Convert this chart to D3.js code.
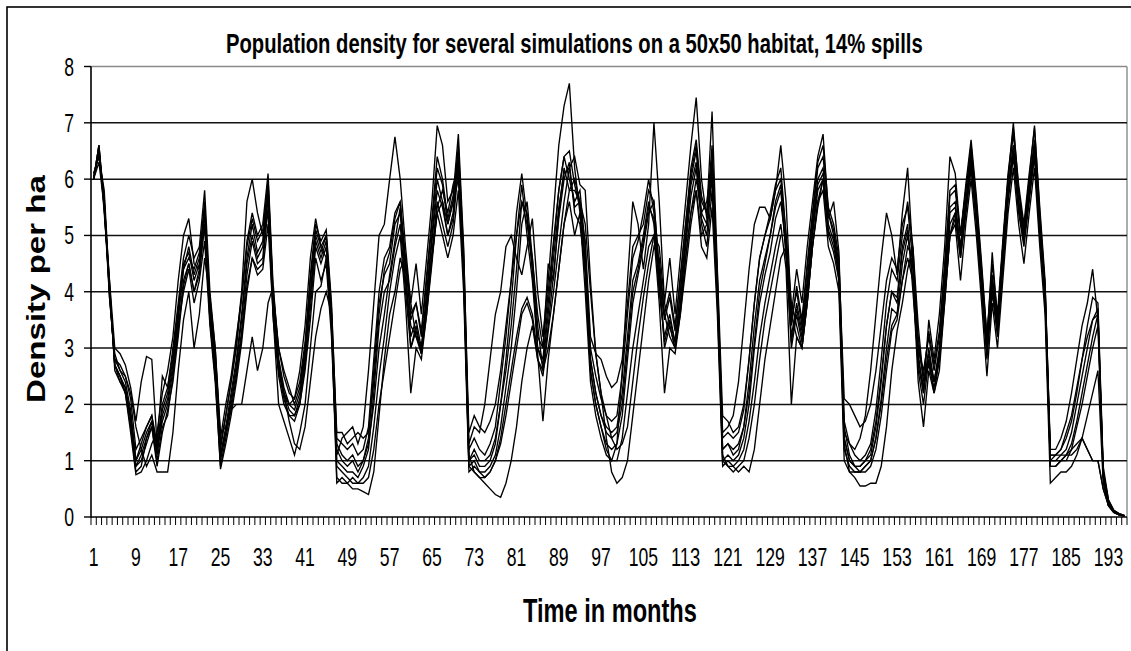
<!DOCTYPE html>
<html><head><meta charset="utf-8">
<script src="https://cdn.jsdelivr.net/npm/d3@7"></script>
<style>body{margin:0;background:#fff;} svg{display:block;}</style>
</head><body>
<svg id="chart" width="1131" height="651"></svg>
<script>
const months = d3.range(1, 197);
const xTickLabels = [1,9,17,25,33,41,49,57,65,73,81,89,97,105,113,121,129,137,145,153,161,169,177,185,193];
const yTicks = [0,1,2,3,4,5,6,7,8];

const sim1 = [
6.0,6.6,5.6,4.0,2.8,2.6,2.4,1.9,1.0,1.2,
1.5,1.7,1.1,1.8,2.1,2.7,3.5,4.4,4.8,4.3,
4.6,5.6,3.8,2.8,1.1,1.6,2.2,2.8,3.6,4.6,
5.2,4.7,4.9,6.0,3.8,2.8,2.3,2.0,1.9,2.2,
2.9,4.0,5.0,4.7,5.0,3.6,1.2,1.0,0.9,1.0,
0.8,1.0,1.4,2.6,3.8,4.3,4.5,5.2,5.4,4.2,
3.2,3.5,3.0,4.0,5.0,6.0,5.6,5.0,5.4,6.5,
4.5,1.0,1.1,0.9,0.9,1.0,1.3,2.0,2.8,3.8,
5.0,5.9,5.0,4.2,3.0,2.8,3.8,4.8,5.8,6.4,
6.0,5.6,5.8,4.8,2.8,2.2,1.8,1.6,1.5,1.6,
2.2,3.2,4.2,4.5,5.0,5.6,5.2,4.0,3.2,3.6,
3.1,4.0,5.0,6.0,6.5,5.4,5.2,6.2,4.0,1.2,
1.3,1.1,1.2,1.6,2.4,3.4,4.2,4.6,5.0,5.6,
5.9,4.6,3.2,3.8,3.3,4.2,5.2,6.0,6.2,5.2,
4.9,4.4,1.4,1.0,0.9,0.9,1.0,1.1,1.6,2.4,
3.4,4.0,3.9,4.8,5.2,4.0,2.8,2.3,3.0,2.4,
3.0,4.2,5.5,5.6,4.8,5.6,6.4,5.4,4.2,3.0,
4.2,3.4,4.6,5.8,6.6,5.6,5.0,5.8,6.6,5.2,
4.0,1.0,1.0,1.1,1.2,1.5,2.0,2.5,3.0,3.5,
3.6,0.8,0.25,0.1,0.05,0.02];

const sim2 = [
6.0,6.5,5.5,4.1,2.7,2.5,2.3,1.7,0.9,1.0,
1.3,1.6,1.0,1.6,1.8,2.5,3.3,4.2,4.5,4.0,
4.4,5.4,3.6,2.6,1.0,1.5,2.0,2.6,3.3,4.3,
4.9,4.5,4.6,5.7,3.6,2.6,2.1,1.8,1.8,2.0,
2.7,3.7,4.8,4.5,4.8,3.4,1.0,0.9,0.8,0.8,
0.7,0.9,1.2,2.2,3.4,4.0,4.2,4.8,5.2,4.0,
3.0,3.3,2.9,3.8,4.7,5.6,5.2,4.8,5.2,6.2,
4.2,0.9,1.0,0.8,0.8,0.9,1.1,1.6,2.3,3.0,
4.0,5.2,5.6,4.6,3.4,2.6,3.4,4.3,5.3,6.0,
6.3,5.4,5.2,4.4,2.6,2.0,1.6,1.3,1.2,1.3,
1.8,2.8,3.8,4.3,4.8,5.4,5.6,4.4,3.0,3.4,
3.0,3.8,4.8,5.7,6.2,5.2,4.8,5.8,3.8,1.0,
1.1,1.0,1.1,1.4,2.0,3.0,3.8,4.3,4.7,5.3,
5.6,4.8,3.0,3.6,3.1,4.0,5.0,5.8,6.0,5.0,
4.7,4.2,1.2,0.9,0.8,0.8,0.9,1.0,1.4,2.1,
3.0,3.7,3.6,4.5,5.0,4.4,2.6,2.0,2.8,2.2,
2.8,4.0,5.2,5.4,4.6,5.4,6.2,5.2,4.0,2.8,
4.0,3.2,4.4,5.6,6.4,5.4,4.8,5.6,6.4,5.0,
3.8,0.9,0.9,1.0,1.0,1.2,1.6,2.0,2.5,3.0,
3.4,0.7,0.2,0.1,0.04,0.02];

const sim3 = [
6.1,6.4,5.7,3.9,2.9,2.6,2.5,2.1,1.2,1.4,
1.6,1.8,1.3,2.0,2.3,3.0,3.8,4.6,5.0,4.6,
4.8,5.8,4.0,3.0,1.3,1.8,2.4,3.0,3.9,4.9,
5.4,5.0,5.2,6.1,4.0,3.0,2.5,2.2,2.1,2.4,
3.1,4.3,5.2,4.9,5.1,3.8,1.4,1.3,1.2,1.3,
1.1,1.2,1.6,2.8,4.0,4.6,4.8,5.4,5.6,4.6,
3.5,3.8,3.3,4.3,5.3,6.4,6.0,5.3,5.7,6.8,
4.8,1.2,1.4,1.2,1.1,1.3,1.6,2.4,3.2,4.2,
5.4,6.1,5.3,4.4,3.2,3.0,4.5,4.2,5.4,6.2,
5.8,5.8,5.6,4.6,3.0,2.5,2.1,1.8,1.7,1.8,
2.5,3.6,4.6,4.9,5.4,6.0,5.4,4.2,3.5,3.9,
3.3,4.3,5.2,6.2,6.7,5.7,5.4,6.6,4.3,1.4,
1.5,1.4,1.5,1.9,2.8,3.8,4.6,5.0,5.4,5.9,
6.2,5.0,3.4,4.1,3.5,4.5,5.4,6.3,6.6,5.5,
5.2,4.6,1.7,1.3,1.1,1.0,1.1,1.3,1.9,2.8,
3.8,4.4,4.2,5.0,5.6,4.8,3.0,2.5,3.3,2.7,
3.3,4.5,5.8,5.9,5.0,5.9,6.7,5.7,4.5,3.2,
4.5,3.6,4.9,6.1,6.9,5.9,5.2,6.1,6.9,5.5,
4.2,1.1,1.1,1.2,1.4,1.7,2.2,2.8,3.4,3.9,
3.8,0.9,0.3,0.12,0.06,0.03];

const sim4 = [
6.0,6.6,5.4,4.2,2.6,2.4,2.2,1.6,0.8,0.9,
1.4,1.7,1.2,1.7,2.0,2.6,3.4,4.0,4.4,3.8,
4.2,4.9,3.4,2.4,0.9,1.4,1.9,2.5,3.2,4.1,
4.6,4.3,4.4,5.2,3.5,2.5,2.0,1.8,1.7,2.0,
2.6,3.5,4.6,4.2,4.5,3.2,0.9,0.8,0.7,0.6,
0.6,0.7,0.9,1.6,2.5,3.2,4.0,4.6,5.0,3.8,
2.2,3.0,2.8,3.6,4.6,5.4,5.0,4.6,5.0,5.8,
4.0,0.8,0.9,0.8,0.7,0.8,1.0,1.4,2.0,2.6,
3.2,3.7,3.9,3.6,2.9,1.7,2.8,3.6,4.4,5.2,
5.6,5.0,5.4,4.0,2.4,1.8,1.4,1.1,1.0,1.0,
1.4,2.2,3.0,3.6,4.2,4.8,5.0,3.8,2.2,3.0,
2.9,3.6,4.6,5.4,5.8,4.8,4.6,5.5,3.6,0.9,
1.0,0.9,1.0,1.2,1.7,2.4,3.2,3.8,4.3,4.8,
5.2,4.4,2.0,3.2,3.0,3.8,4.8,5.6,5.8,4.8,
4.5,4.0,1.0,0.8,0.8,0.8,0.8,0.9,1.2,1.8,
2.6,3.3,3.5,4.2,4.6,4.2,2.4,1.6,2.6,2.2,
2.6,3.8,5.0,5.2,4.2,5.2,6.0,5.0,3.8,2.5,
3.8,3.0,4.2,5.4,6.2,5.2,4.5,5.4,6.2,4.8,
3.6,0.6,0.7,0.8,0.8,0.9,1.1,1.4,1.8,2.2,
2.6,0.6,0.2,0.08,0.04,0.02];

const sim5 = [
6.0,6.5,5.6,4.0,2.7,2.5,2.2,1.5,0.75,0.8,
1.0,1.3,1.5,2.2,2.6,3.2,4.2,5.0,5.3,4.5,
4.4,5.2,3.5,2.5,1.2,1.8,2.4,3.1,4.0,5.6,
6.0,5.4,5.0,5.4,3.6,2.6,2.2,2.0,2.1,2.6,
3.4,4.6,5.3,4.8,4.6,3.5,1.1,1.4,1.5,1.6,
1.3,1.6,2.6,3.8,5.0,5.2,6.0,6.75,6.0,4.8,
3.8,4.5,3.6,4.6,5.6,6.95,6.6,5.6,5.8,6.3,
4.4,1.3,1.6,1.5,2.0,2.8,3.6,4.0,4.8,5.0,
4.6,4.3,4.8,5.3,4.0,3.2,4.2,5.4,6.6,7.3,
7.7,6.2,5.4,4.3,2.6,2.0,1.6,1.2,1.0,1.3,
2.6,4.2,5.6,5.2,4.4,5.2,7.0,5.6,3.8,4.6,
3.6,4.6,5.6,6.6,7.45,6.0,5.3,6.0,4.1,1.5,
1.6,1.8,2.4,3.4,4.4,5.2,5.5,5.5,5.3,5.8,
6.6,5.6,3.6,4.4,3.8,4.8,5.6,6.4,6.8,5.4,
5.0,4.2,1.5,1.3,1.2,1.4,1.8,2.6,3.6,4.6,
5.4,5.0,4.3,5.4,6.2,4.6,2.9,2.2,3.5,2.8,
3.6,4.8,6.4,6.1,5.0,5.8,6.5,5.5,4.3,3.1,
4.7,3.5,4.8,6.0,7.0,5.8,5.0,5.9,6.7,5.3,
4.1,1.2,1.2,1.4,1.7,2.2,2.8,3.4,3.8,4.4,
3.5,0.8,0.25,0.1,0.05,0.02];

const sim6 = [
6.0,6.3,5.5,3.9,2.8,2.7,2.5,2.2,1.6,1.2,
0.9,1.1,0.8,0.8,0.8,1.5,2.6,3.5,4.0,3.0,
3.6,4.6,3.9,3.0,1.5,1.6,1.9,2.0,2.0,2.6,
3.2,2.6,3.0,3.8,4.1,2.8,2.2,1.7,1.3,1.2,
1.6,2.4,3.2,3.7,4.0,3.6,0.7,0.6,0.6,0.5,
0.5,0.45,0.4,0.8,1.8,2.8,3.6,4.0,4.6,4.2,
3.4,3.2,3.0,3.8,4.6,5.4,5.6,5.2,5.6,6.0,
4.6,1.1,0.8,0.7,0.6,0.5,0.4,0.35,0.6,1.0,
1.6,2.4,3.0,3.4,2.8,2.6,3.0,3.6,4.4,5.2,
5.8,6.0,5.6,5.2,4.0,2.9,2.2,1.4,0.8,0.6,
0.7,1.0,1.8,2.6,3.4,4.2,4.8,4.6,3.6,3.2,
3.0,3.6,4.4,5.2,5.8,5.0,5.2,6.4,4.2,1.1,
0.9,0.9,0.8,0.9,0.8,1.2,2.0,2.8,3.4,4.0,
4.6,4.8,3.6,3.2,3.0,3.8,4.8,5.6,6.0,5.0,
5.0,4.4,1.3,0.8,0.7,0.55,0.55,0.6,0.6,0.9,
1.6,2.6,3.3,3.8,4.4,4.8,3.4,2.4,2.8,2.4,
2.8,3.8,5.0,5.3,4.6,5.4,6.2,5.3,4.1,3.0,
4.0,3.3,4.5,5.7,6.5,5.5,4.9,5.7,6.5,5.1,
3.9,1.0,1.0,1.0,1.1,1.2,1.3,1.4,1.2,1.0,
1.0,0.5,0.2,0.08,0.04,0.02];

const sim7 = [
6.1,6.4,5.8,4.1,2.7,2.4,2.3,1.8,1.0,1.3,
1.6,1.8,1.2,1.9,2.2,2.8,3.6,4.5,4.7,4.2,
4.5,5.5,3.7,2.7,1.1,1.5,2.1,2.7,3.5,4.5,
5.0,4.6,4.8,5.8,3.7,2.7,2.2,1.9,1.8,2.1,
2.8,3.9,4.9,4.6,4.9,3.5,1.3,1.1,1.0,1.1,
0.9,1.0,1.3,2.0,3.0,3.6,4.3,4.9,5.5,4.4,
3.0,3.4,2.9,3.9,4.9,5.8,5.5,5.0,5.3,6.4,
4.3,1.0,1.2,1.0,1.0,1.1,1.4,2.0,2.6,3.4,
4.4,5.6,5.4,4.4,3.0,2.7,3.6,4.6,5.5,6.1,
6.2,5.5,5.6,4.5,2.8,2.2,1.8,1.5,1.4,1.5,
2.0,3.0,4.0,4.4,4.9,5.5,5.3,4.1,3.1,3.5,
3.1,4.0,4.9,5.9,6.3,5.3,5.0,6.1,4.0,1.2,
1.3,1.2,1.3,1.6,2.2,3.1,4.0,4.5,5.0,5.5,
5.8,4.7,3.1,3.7,3.2,4.1,5.1,5.9,6.1,5.1,
4.8,4.3,1.4,1.0,0.9,0.9,1.0,1.2,1.7,2.5,
3.4,4.0,3.8,4.7,5.1,4.2,2.7,2.2,2.9,2.4,
2.9,4.1,5.4,5.5,4.7,5.5,6.3,5.3,4.1,2.9,
4.1,3.3,4.5,5.7,6.5,5.5,4.9,5.7,6.5,5.1,
3.9,1.0,1.1,1.2,1.5,1.8,2.3,2.8,3.2,3.5,
3.7,0.8,0.3,0.12,0.06,0.03];

const sim8 = [
6.0,6.5,5.6,4.2,3.0,2.9,2.7,2.3,1.7,2.4,
2.85,2.8,1.3,2.5,2.3,2.9,3.7,4.4,4.6,4.4,
4.7,5.4,3.8,2.9,1.4,2.0,2.5,3.2,3.9,4.8,
5.3,4.9,5.1,5.9,3.9,3.0,2.6,2.3,2.0,2.3,
3.0,4.2,5.1,4.8,5.0,3.7,1.5,1.5,1.3,1.4,
1.5,1.4,1.5,2.4,3.6,4.4,4.7,5.3,5.6,4.5,
3.6,3.8,3.2,4.2,5.2,6.2,5.9,5.2,5.6,6.6,
4.7,1.5,1.8,1.6,1.5,1.7,2.0,2.6,3.4,4.2,
5.0,5.6,5.2,4.6,3.6,3.0,4.0,4.9,5.8,6.4,
6.5,5.9,5.5,4.9,3.2,2.9,2.8,2.5,2.3,2.4,
2.8,3.8,4.8,5.0,5.2,5.8,5.6,4.4,3.6,4.0,
3.4,4.2,5.2,6.1,6.6,5.6,5.4,7.2,4.4,1.8,
1.7,1.5,1.6,2.0,2.8,3.8,4.6,5.0,5.3,5.8,
6.0,5.0,3.5,4.0,3.4,4.4,5.3,6.2,6.4,5.4,
5.1,4.5,2.1,2.0,1.8,1.6,1.7,2.0,2.6,3.4,
4.2,4.6,4.4,5.2,5.5,4.5,3.0,2.6,3.2,2.6,
3.2,4.4,5.7,5.8,5.0,5.8,6.6,5.6,4.4,3.2,
4.3,3.5,4.8,6.0,6.8,5.8,5.1,6.0,6.95,5.4,
4.1,1.1,1.1,1.1,1.1,1.1,1.2,1.4,1.2,1.0,
1.0,0.5,0.2,0.08,0.04,0.01];

const sim9 = [
6.0,6.6,5.5,4.0,2.7,2.5,2.2,1.8,0.9,1.1,
1.4,1.6,0.9,1.5,1.9,2.4,3.2,4.1,4.5,4.0,
4.3,5.2,3.5,2.5,0.85,1.3,1.8,2.4,3.1,4.0,
4.6,4.4,4.5,5.5,3.5,2.0,1.7,1.4,1.1,1.5,
2.0,3.0,4.0,4.1,4.6,3.4,0.6,0.7,0.6,0.7,
0.6,0.6,0.7,1.2,2.0,2.6,3.2,3.8,4.4,4.6,
3.8,3.2,2.9,3.6,4.5,5.5,5.8,5.4,5.9,6.2,
4.4,0.9,0.8,0.7,0.7,0.8,1.0,1.3,1.8,2.4,
3.0,3.6,3.8,3.5,2.8,2.5,3.3,4.0,4.8,5.6,
6.2,6.4,5.9,5.8,4.2,2.9,2.2,1.8,1.4,1.2,
1.3,1.6,2.4,3.2,3.9,4.5,5.0,4.8,3.8,3.4,
3.0,3.7,4.6,5.4,6.0,5.4,5.6,6.3,4.2,1.0,
0.9,0.8,0.9,1.0,1.4,2.0,2.8,3.5,4.0,4.5,
5.0,5.0,3.8,3.4,3.0,3.8,4.8,5.5,6.0,5.3,
5.6,4.7,1.6,1.1,0.9,0.8,0.9,1.0,1.4,2.0,
2.8,3.4,3.6,4.2,4.8,4.6,3.2,2.4,2.7,2.3,
2.8,3.9,5.0,5.4,4.8,5.6,6.4,5.5,4.3,3.1,
4.0,3.4,4.6,5.8,6.6,5.6,5.0,5.8,6.6,5.2,
4.0,0.9,0.9,1.0,1.1,1.3,1.7,2.2,2.7,3.2,
3.6,0.7,0.2,0.1,0.05,0.02];

const seriesList = [sim1, sim2, sim3, sim4, sim5, sim6, sim7, sim8, sim9];

const titleText = "Population density for several simulations on a 50x50 habitat, 14% spills";
const yTitleText = "Density per ha";
const xTitleText = "Time in months";

// ---------- drawing ----------
const svg = d3.select("#chart");
const FONT = "'Liberation Sans', Arial, sans-serif";
const plot = {left: 91, right: 1127, top: 66.5, bottom: 517};

const x = d3.scaleBand().domain(months).range([plot.left, plot.right]).paddingInner(0).paddingOuter(0);
const y = d3.scaleLinear().domain([0, 8]).range([plot.bottom, plot.top]);

svg.append("rect").attr("x", 0).attr("y", 0).attr("width", 1131).attr("height", 651).attr("fill", "#fff");
// outer chart border (right and bottom edges lie outside the picture)
svg.append("rect").attr("x", 7).attr("y", 7).attr("width", 1140).attr("height", 660)
  .attr("fill", "none").attr("stroke", "#000").attr("stroke-width", 1.6);

// plot frame (grey top/right)
svg.append("line").attr("x1", plot.left).attr("x2", plot.right).attr("y1", y(8)).attr("y2", y(8))
  .attr("stroke", "#8a8a8a").attr("stroke-width", 1.4);
svg.append("line").attr("x1", plot.right).attr("x2", plot.right).attr("y1", plot.top).attr("y2", plot.bottom)
  .attr("stroke", "#8a8a8a").attr("stroke-width", 1.4);

// gridlines
svg.append("g").selectAll("line").data(yTicks.filter(t => t > 0 && t < 8)).join("line")
  .attr("x1", plot.left).attr("x2", plot.right)
  .attr("y1", d => y(d)).attr("y2", d => y(d))
  .attr("stroke", "#111").attr("stroke-width", 1.5);

// series
const line = d3.line()
  .x((d, i) => x(months[i]) + x.bandwidth() / 2)
  .y(d => y(d));
svg.append("g").selectAll("path").data(seriesList).join("path")
  .attr("d", line).attr("fill", "none").attr("stroke", "#000").attr("stroke-width", 1.35)
  .attr("stroke-linejoin", "miter");

// axes lines
svg.append("line").attr("x1", plot.left).attr("x2", plot.left).attr("y1", plot.top).attr("y2", plot.bottom + 0.5)
  .attr("stroke", "#000").attr("stroke-width", 1.6);
svg.append("line").attr("x1", plot.left).attr("x2", plot.right).attr("y1", plot.bottom).attr("y2", plot.bottom)
  .attr("stroke", "#000").attr("stroke-width", 1.6);

// text helper: condensed text placed by left edge and baseline, scaled to a width
function placeText(parent, str, opts) {
  const g = parent.append("g");
  const t = g.append("text")
    .attr("font-family", FONT).attr("font-size", opts.size)
    .attr("font-weight", opts.weight || "normal").attr("fill", "#000")
    .text(str);
  const w = t.node().getComputedTextLength();
  const sx = opts.width / w;
  const rot = opts.rotate ? ` rotate(${opts.rotate})` : "";
  g.attr("transform", `translate(${opts.x},${opts.y})${rot} scale(${sx},1)`);
  return g;
}

// y ticks + labels
const yAxisG = svg.append("g");
yAxisG.selectAll("line").data(yTicks).join("line")
  .attr("x1", plot.left - 7).attr("x2", plot.left).attr("y1", d => y(d)).attr("y2", d => y(d))
  .attr("stroke", "#000").attr("stroke-width", 1.4);

const digitW = 9.8;
yTicks.forEach(d => {
  const s = String(d);
  placeText(yAxisG, s, {x: 74 - s.length * digitW, y: y(d) + 9, size: 25, width: s.length * digitW});
});

// x ticks (between categories)
const xBounds = months.map(m => x(m)).concat([plot.right]);
svg.append("g").selectAll("line").data(xBounds).join("line")
  .attr("x1", d => d).attr("x2", d => d).attr("y1", plot.bottom).attr("y2", plot.bottom + 8)
  .attr("stroke", "#000").attr("stroke-width", 1);

const xLabG = svg.append("g");
xTickLabels.forEach(d => {
  const s = String(d);
  const cx = x(d) + x.bandwidth() / 2;
  placeText(xLabG, s, {x: cx - s.length * digitW / 2, y: 566, size: 26, width: s.length * digitW});
});

// titles
placeText(svg, titleText, {x: 226, y: 53, size: 27, weight: "bold", width: 697});
placeText(svg, xTitleText, {x: 523, y: 622, size: 33, weight: "bold", width: 174});
placeText(svg, yTitleText, {x: 45, y: 403, size: 25, weight: "bold", width: 228, rotate: -90});
</script>
</body></html>
